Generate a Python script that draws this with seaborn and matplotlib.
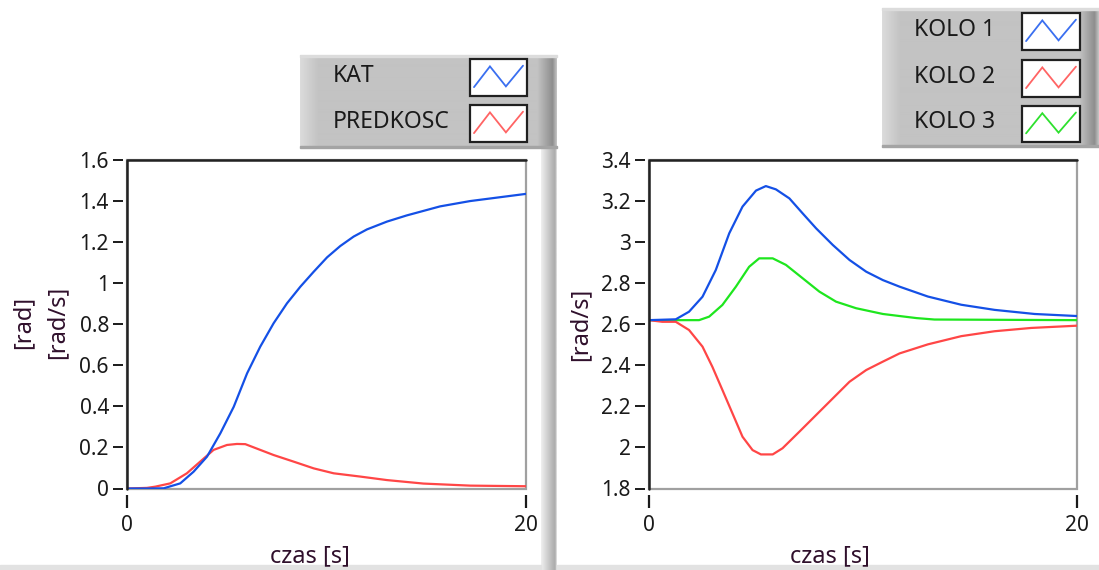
import numpy as np
import pandas as pd
import matplotlib
matplotlib.use("Agg")
import matplotlib.pyplot as plt
from matplotlib.patches import Rectangle
import seaborn as sns

# ---- data -------------------------------------------------------------
kat_t = [0, 1.0, 1.84, 2.67, 3.34, 4.01, 4.68, 5.35, 6.02, 6.68, 7.35, 8.02,
         8.69, 9.36, 10.03, 10.69, 11.36, 12.03, 13.03, 14.02, 15.69, 17.2, 20.0]
kat_v = [0, 0, 0.001, 0.025, 0.082, 0.155, 0.269, 0.398, 0.561, 0.691, 0.805,
         0.902, 0.983, 1.056, 1.126, 1.181, 1.227, 1.262, 1.30, 1.33, 1.374,
         1.40, 1.435]

pred_t = [0, 1.0, 1.42, 2.17, 3.0, 3.67, 4.34, 5.01, 5.51, 5.93, 6.68, 7.35,
          8.35, 9.36, 10.36, 11.7, 13.03, 14.86, 17.2, 20.0]
pred_v = [0, 0.003, 0.009, 0.025, 0.074, 0.131, 0.188, 0.212, 0.217, 0.216,
          0.188, 0.163, 0.131, 0.098, 0.074, 0.058, 0.041, 0.024, 0.014, 0.011]

kolo1_t = [0, 1.25, 1.87, 2.5, 3.12, 3.75, 4.37, 5.0, 5.46, 5.93, 6.56, 7.18,
           7.81, 8.59, 9.37, 10.15, 10.93, 11.71, 13.03, 14.59, 16.15, 18.02, 20.0]
kolo1_v = [2.62, 2.624, 2.661, 2.734, 2.864, 3.043, 3.173, 3.251, 3.273, 3.257,
           3.213, 3.14, 3.067, 2.986, 2.913, 2.856, 2.815, 2.783, 2.735, 2.695,
           2.67, 2.65, 2.64]

kolo2_t = [0, 0.62, 1.25, 1.87, 2.5, 2.96, 3.43, 3.9, 4.37, 4.84, 5.23, 5.78,
           6.24, 7.03, 7.81, 8.59, 9.37, 10.15, 10.93, 11.71, 13.03, 14.59,
           16.15, 17.86, 20.0]
kolo2_v = [2.62, 2.612, 2.612, 2.572, 2.491, 2.393, 2.28, 2.166, 2.052, 1.987,
           1.966, 1.966, 1.996, 2.077, 2.158, 2.239, 2.32, 2.377, 2.418, 2.458,
           2.502, 2.542, 2.566, 2.582, 2.593]

kolo3_t = [0, 2.34, 2.81, 3.43, 4.06, 4.68, 5.15, 5.78, 6.4, 7.18, 7.96, 8.74,
           9.68, 10.93, 11.71, 12.5, 13.34, 20.0]
kolo3_v = [2.62, 2.62, 2.637, 2.694, 2.783, 2.88, 2.921, 2.921, 2.889, 2.824,
           2.759, 2.71, 2.678, 2.65, 2.64, 2.63, 2.623, 2.62]

left_names = ["KAT", "PREDKOSC"]
right_names = ["KOLO 1", "KOLO 2", "KOLO 3"]
left_yticks = [0, 0.2, 0.4, 0.6, 0.8, 1, 1.2, 1.4, 1.6]
left_yticklabels = ["0", "0.2", "0.4", "0.6", "0.8", "1", "1.2", "1.4", "1.6"]
right_yticks = [1.8, 2, 2.2, 2.4, 2.6, 2.8, 3, 3.2, 3.4]
right_yticklabels = ["1.8", "2", "2.2", "2.4", "2.6", "2.8", "3", "3.2", "3.4"]
xticks = [0, 20]

BLUE, RED, GREEN = "#1450e6", "#ff4646", "#1ee61e"
SW_BLUE, SW_RED, SW_GREEN = "#3a6ff0", "#ff6464", "#2ee02e"
INK = "#1a1a1a"
NAME_INK = "#30102c"

sns.set_theme(style="white")
plt.rcParams["font.family"] = ["Noto Sans", "DejaVu Sans"]

W, H = 1099, 570
fig = plt.figure(figsize=(W / 100, H / 100), dpi=100)
fig.patch.set_facecolor("white")

# background layer in pixel coordinates (panels, legends, bevels)
bg = fig.add_axes([0, 0, 1, 1], zorder=-5)
bg.set_xlim(0, W)
bg.set_ylim(H, 0)
bg.axis("off")


def hgrad(x0, x1, y0, y1, levels):
    arr = np.array([levels])
    bg.imshow(arr, extent=(x0, x1, y1, y0), cmap="gray", vmin=0, vmax=1,
              aspect="auto", interpolation="bilinear", zorder=1)


def legend_panel(x0, x1, y0, y1):
    n = int(x1 - x0)
    prof = np.full(n, 0.765)
    ramp_l = 18
    prof[:ramp_l] = np.linspace(0.86, 0.77, ramp_l)
    ramp_r = 20
    prof[n - ramp_r:] = np.concatenate([np.linspace(0.765, 0.56, ramp_r - 4),
                                        np.linspace(0.6, 0.75, 4)])
    hgrad(x0, x1, y0, y1, prof)
    bg.add_patch(Rectangle((x0, y1 - 2), x1 - x0, 2, color="#a4a4a4", zorder=2))
    bg.add_patch(Rectangle((x0, y0), x1 - x0, 1.5, color="#dcdcdc", zorder=2))


def swatch(x0, x1, y0, y1, color):
    bg.add_patch(Rectangle((x0, y0), x1 - x0, y1 - y0, facecolor="white",
                           edgecolor="#202020", lw=1.6, zorder=3))
    fx = np.array([0.07, 0.35, 0.63, 0.93])
    fy = np.array([0.76, 0.2, 0.74, 0.18])
    bg.plot(x0 + fx * (x1 - x0), y0 + fy * (y1 - y0), color=color, lw=1.3,
            zorder=4, solid_joinstyle="miter")


# left legend
legend_panel(300, 557, 55, 148)
bg.text(333, 76, left_names[0], fontsize=16.5, color=INK, va="center", ha="left", zorder=5)
bg.text(333, 122, left_names[1], fontsize=16.5, color=INK, va="center", ha="left", zorder=5)
swatch(470, 527, 59, 96, SW_BLUE)
swatch(470, 527, 105, 142, SW_RED)

# right legend
legend_panel(882, 1099, 8, 147)
for name, yc in zip(right_names, [30, 77, 122]):
    bg.text(914, yc, name, fontsize=16.5, color=INK, va="center", ha="left", zorder=5)
swatch(1022, 1080, 13, 50, SW_BLUE)
swatch(1022, 1080, 60, 97, SW_RED)
swatch(1022, 1080, 106, 142, SW_GREEN)

# vertical bevel between the two panels and bottom strip
hgrad(541, 557, 148, H, np.concatenate([np.linspace(0.93, 0.68, 14), [0.72, 0.85]]))
bg.add_patch(Rectangle((0, 565), 541, 5, color="#e2e2e2", zorder=1))
bg.add_patch(Rectangle((557, 565), W - 557, 5, color="#e2e2e2", zorder=1))


def add_axes_px(x0, x1, y0, y1):
    return fig.add_axes([x0 / W, 1 - y1 / H, (x1 - x0) / W, (y1 - y0) / H])


def style_axes(ax, yticks, yticklabels, ylim):
    ax.set_xlim(0, 20)
    ax.set_ylim(*ylim)
    ax.set_xticks(xticks)
    ax.set_xticklabels([str(v) for v in xticks])
    ax.set_yticks(yticks)
    ax.set_yticklabels(yticklabels)
    ax.set_xlabel("")
    ax.set_ylabel("")
    ax.set_facecolor("white")
    for s in ["left", "bottom", "right", "top"]:
        ax.spines[s].set_visible(False)
    ax.spines["left"].set_position(("outward", 3))
    ax.spines["bottom"].set_position(("outward", 5))
    ax.tick_params(axis="y", direction="out", length=7, width=1.4, color=INK,
                   labelsize=15, labelcolor=INK, pad=3, left=True)
    ax.tick_params(axis="x", direction="out", length=9, width=1.6, color=INK,
                   labelsize=15, labelcolor=INK, pad=5, bottom=True)
    # plot-area frame: light on bottom/right, dark on left/top
    ax.add_patch(Rectangle((0, 0), 1, 1, transform=ax.transAxes, fill=False,
                           edgecolor="#a0a0a0", lw=1.6, clip_on=False, zorder=1))
    ax.plot([0, 0, 1], [0, 1, 1], transform=ax.transAxes, color="#222222",
            lw=1.8, clip_on=False, zorder=6)


# ---- left chart -------------------------------------------------------
axL = add_axes_px(127, 526, 160, 488.5)
df_pred = pd.DataFrame({"t": pred_t, "v": pred_v})
df_kat = pd.DataFrame({"t": kat_t, "v": kat_v})
sns.lineplot(data=df_pred, x="t", y="v", ax=axL, color=RED, lw=1.6, zorder=3)
sns.lineplot(data=df_kat, x="t", y="v", ax=axL, color=BLUE, lw=1.6, zorder=4)
style_axes(axL, left_yticks, left_yticklabels, (0, 1.6))

# ---- right chart ------------------------------------------------------
axR = add_axes_px(649, 1077, 160, 488.5)
for tt, vv, c, z in [(kolo3_t, kolo3_v, GREEN, 3), (kolo2_t, kolo2_v, RED, 4),
                     (kolo1_t, kolo1_v, BLUE, 5)]:
    sns.lineplot(x=tt, y=vv, ax=axR, color=c, lw=1.6, zorder=z)
style_axes(axR, right_yticks, right_yticklabels, (1.8, 3.4))

# axis names
bg.text(23, 322, "[rad]", rotation=90, fontsize=17, color=NAME_INK,
        ha="center", va="center")
bg.text(57, 322, "[rad/s]", rotation=90, fontsize=17, color=NAME_INK,
        ha="center", va="center")
bg.text(580, 324, "[rad/s]", rotation=90, fontsize=17, color=NAME_INK,
        ha="center", va="center")
bg.text(310, 556, "czas [s]", fontsize=17, color=NAME_INK, ha="center", va="center")
bg.text(830, 556, "czas [s]", fontsize=17, color=NAME_INK, ha="center", va="center")

fig.savefig("out.png", dpi=100, facecolor="white")
